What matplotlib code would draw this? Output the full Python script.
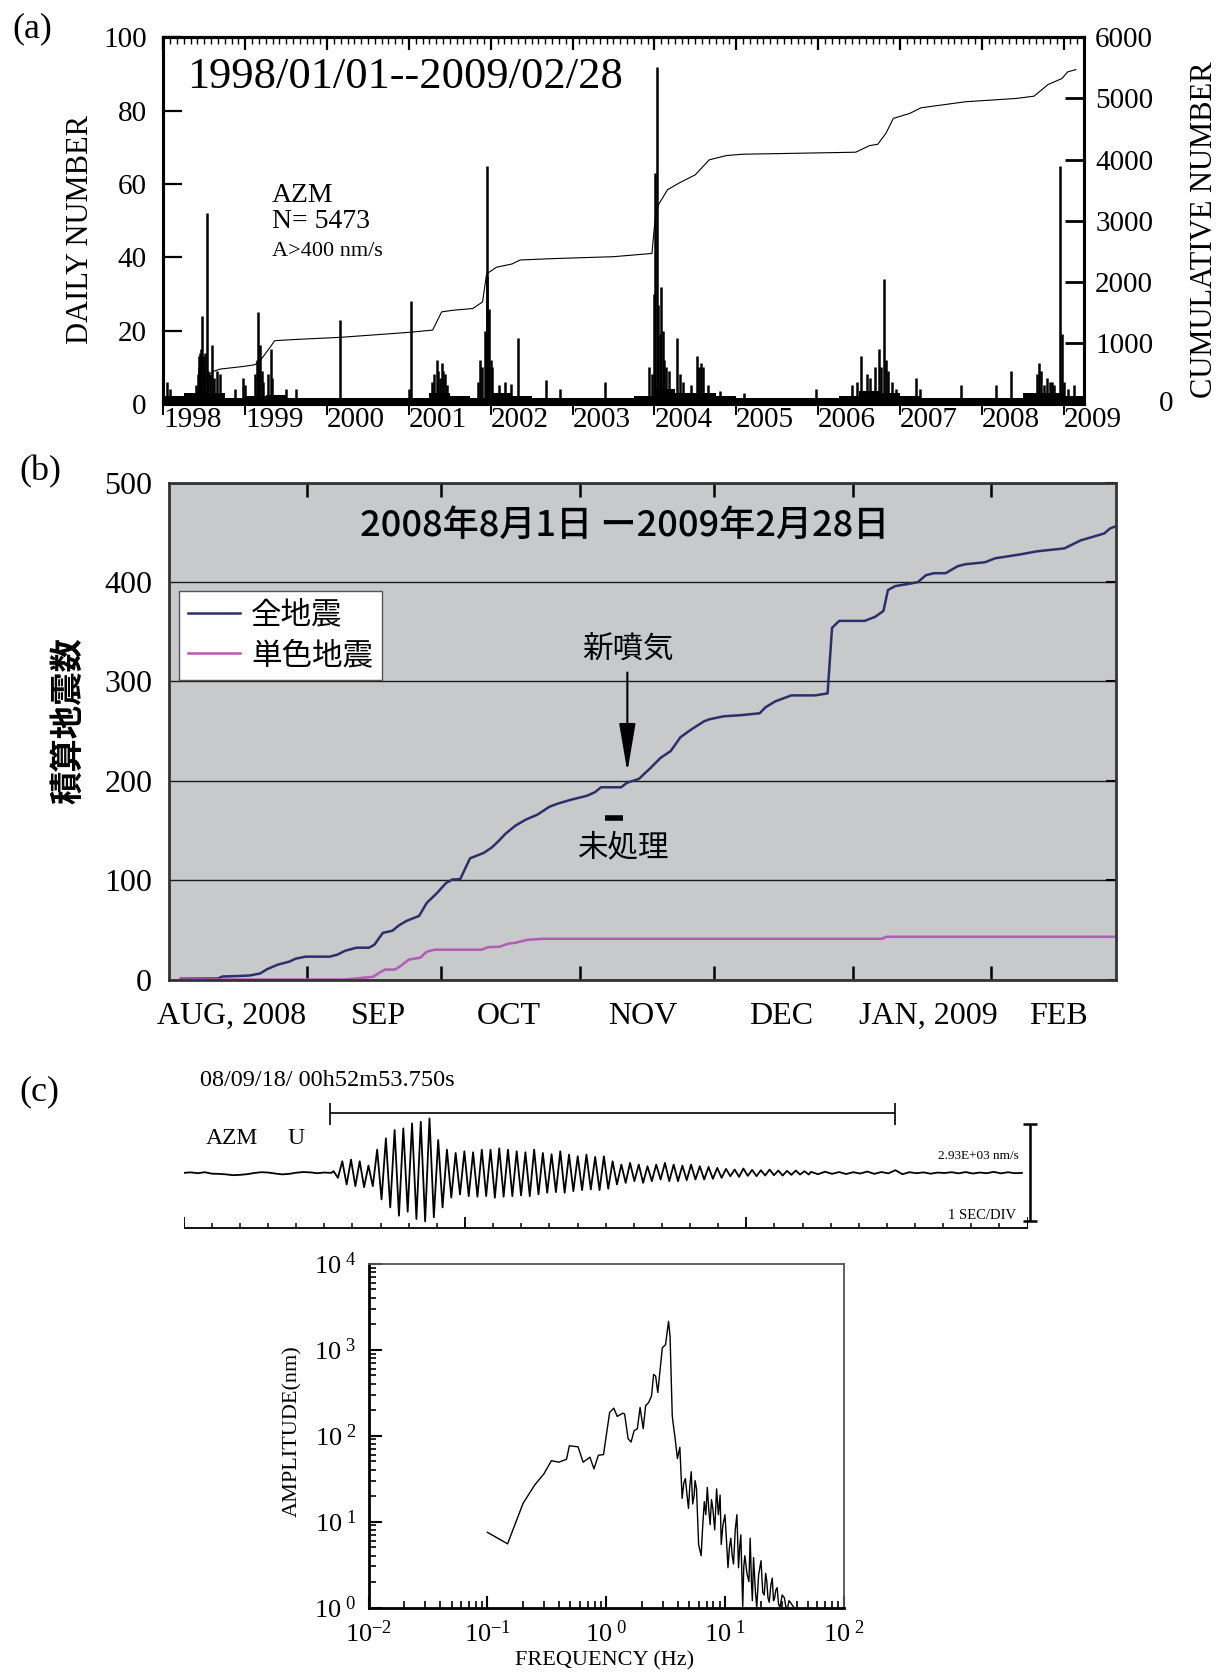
import numpy as np
import matplotlib
matplotlib.use('Agg')
import matplotlib.pyplot as plt
from matplotlib.ticker import FixedLocator, LogLocator, FuncFormatter, NullFormatter

plt.rcParams['font.family'] = ['Liberation Serif', 'DejaVu Serif']
plt.rcParams['mathtext.fontset'] = 'custom'
plt.rcParams['mathtext.rm'] = 'Liberation Serif'
plt.rcParams['mathtext.it'] = 'Liberation Serif:italic'
plt.rcParams['mathtext.bf'] = 'Liberation Serif:bold'
JP = ['Noto Sans CJK JP', 'DejaVu Sans']

W, H = 1221, 1675

# ---------------- (a) daily / cumulative counts 1998-2009 ----------------
spike_year = [1998.05, 1998.08, 1998.40, 1998.42, 1998.43, 1998.44, 1998.45, 1998.46, 1998.47,
              1998.48, 1998.49, 1998.50, 1998.51, 1998.53, 1998.55, 1998.57, 1998.60, 1998.62,
              1998.66, 1998.69, 1998.87, 1998.97, 1999.00,
              1999.12, 1999.14, 1999.15, 1999.16, 1999.18, 1999.20, 1999.22, 1999.28, 1999.31,
              1999.33, 1999.50, 1999.62,
              2000.16, 2001.00, 2001.03, 2001.28, 2001.31, 2001.34, 2001.36, 2001.38, 2001.40,
              2001.42, 2001.44, 2001.47, 2001.85, 2001.87, 2001.89, 2001.93, 2001.95, 2001.96,
              2001.98, 2002.00, 2002.02, 2002.10, 2002.17, 2002.25, 2002.33, 2002.67, 2002.85,
              2003.40, 2003.94, 2003.97, 2004.00, 2004.01, 2004.03, 2004.05, 2004.07, 2004.08,
              2004.10, 2004.12, 2004.14, 2004.18, 2004.28, 2004.31, 2004.35, 2004.45, 2004.52,
              2004.55, 2004.57, 2004.60, 2004.65, 2004.80, 2005.10, 2005.98, 2006.42, 2006.47,
              2006.53, 2006.60, 2006.64, 2006.70, 2006.74, 2006.77, 2006.81, 2006.83, 2006.86,
              2006.90, 2006.95, 2007.20, 2007.25, 2007.75, 2008.18, 2008.36, 2008.68, 2008.70,
              2008.72, 2008.76, 2008.80, 2008.83, 2008.86, 2008.88, 2008.96, 2008.98, 2009.00,
              2009.05, 2009.13]
spike_count = [6, 4, 5, 8, 10, 13, 14, 15, 24,
               13, 12, 10, 14, 52, 9, 8, 16, 7,
               9, 8, 4, 7, 5,
               8, 12, 10, 25, 16, 9, 6, 8, 15,
               7, 4, 4,
               23, 4, 28, 6, 8, 12, 9, 7, 11,
               9, 8, 5, 6, 12, 10, 20, 35, 65,
               26, 12, 10, 5, 6, 5.5, 18, 6.5, 4,
               6, 10, 8, 30, 63, 92, 27, 19, 32,
               20, 12, 10, 9, 18, 8, 6, 5, 13,
               10, 11, 10, 5, 3.5, 3, 4, 5, 6,
               13, 8, 7, 10, 15, 10, 34, 12, 9,
               6, 4, 7, 4, 5, 5, 9, 8, 11,
               9, 5, 7, 6, 6, 5, 65, 19, 6,
               4, 5]
# typical small daily counts, one value per quarter year from 1998 Q1
bg_level = [2, 3, 3, 1.5,
            2, 2.5, 1.5, 1.5,
            1.5, 1.5, 1.5, 1.5,
            1.5, 3, 2, 1.5,
            3, 2, 1.5, 1.5,
            1.5, 1.5, 1.5, 2,
            4, 3, 3, 2,
            1.5, 1.5, 1.5, 1.5,
            1.5, 2, 3.5, 3,
            2, 1.5, 1.5, 1.5,
            1.5, 1.5, 3, 3,
            2]
cum_year = [1998.0, 1998.35, 1998.45, 1998.55, 1998.61, 1998.69, 1998.98, 1999.12, 1999.19,
            1999.31, 1999.36, 1999.65, 2000.16, 2001.0, 2001.29, 2001.40, 2001.54, 2001.78,
            2001.90, 2001.95, 2002.07, 2002.26, 2002.36, 2002.75, 2003.5, 2003.97, 2004.01,
            2004.05, 2004.16, 2004.30, 2004.50, 2004.67, 2004.88, 2005.08, 2005.76, 2006.46,
            2006.63, 2006.73, 2006.83, 2006.92, 2007.12, 2007.26, 2007.5, 2007.8, 2008.42,
            2008.64, 2008.81, 2008.98, 2009.05, 2009.15]
cum_count = [0, 40, 250, 480, 530, 568, 612, 640, 720,
             937, 1034, 1056, 1088, 1170, 1207, 1505, 1532, 1560,
             1668, 2128, 2236, 2290, 2355, 2377, 2409, 2462, 3043,
             3260, 3505, 3614, 3750, 3995, 4065, 4087, 4103, 4120,
             4228, 4250, 4430, 4674, 4755, 4848, 4891, 4946, 5000,
             5038, 5228, 5326, 5435, 5473]
years = list(range(1998, 2010))

# ---------------- (b) cumulative counts Aug 2008 - Feb 2009 ----------------
all_day = [2.7, 11, 12, 15.5, 18, 20.4, 22, 24.4, 27, 28.4, 30.6, 36, 37.7, 39.5, 42, 44.8, 46,
           47.9, 50, 51.5, 53.2, 56, 57.7, 60, 62, 63.4, 65.2, 67.4, 70.5, 72.3, 73.7, 75.4,
           77.6, 79.9, 82.5, 85.2, 87, 90, 93.6, 95.4, 96.7, 101.2, 102.5, 105.2, 107.8, 110,
           112.3, 114.5, 117, 119.8, 121, 124.2, 127.8, 132.2, 133.5, 135.7, 139.3, 144.6,
           147.4, 148.4, 150, 155.7, 158, 159.9, 160.9, 162.5, 165.2, 167.6, 169.4, 171.2,
           173.8, 176.5, 178.2, 182.6, 184.9, 190.6, 194.2, 200.4, 202.2, 204, 209.3, 210.6,
           211.7]
all_n = [0.8, 1, 3, 3.5, 4, 6, 10.4, 15, 18, 21, 23, 23, 25, 29, 32, 32, 35,
         47, 49, 54.5, 59, 64, 77, 87, 97, 100.6, 101, 122, 127.5, 133, 139, 147,
         155, 161, 166, 174, 177, 181, 185, 188.7, 193.5, 193.5, 198, 202, 213, 223,
         230, 244, 252, 260, 262, 265, 266, 268, 274, 280, 286, 286,
         288, 354, 361, 361, 365, 371, 392, 396, 398, 400, 407, 409,
         409, 416, 418, 420, 424, 428, 431, 434, 438, 442, 449, 454,
         456]
mono_day = [2.7, 39.5, 45.7, 47, 48.4, 50.6, 52, 53.7, 56.3, 57.7, 59.5, 70, 71.4, 74, 75.9,
            77.6, 80.3, 83.8, 159.6, 160.5, 211.7]
mono_n = [0, 0, 2.7, 6.5, 10, 10, 14, 20, 22, 28, 30, 30, 32.5, 33, 36,
          37, 40, 41, 41, 43, 43]
month_start = [31, 61, 92, 122, 153, 184]
month_mid = [14, 47, 76, 106, 137, 170, 199]
month_lab = ['AUG, 2008', 'SEP', 'OCT', 'NOV', 'DEC', 'JAN, 2009', 'FEB']

# ---------------- (c) waveform and spectrum ----------------
pre_noise = [0, 15, -10, 20, -25, -30, -45, -70, -60, -40, -5, 20, 10, -20, -45, -30, 5, 25,
             15, -10, 10, 0]
wave_t0 = 5.25      # s, onset
wave_period = 0.31  # s, dominant period
wave_up = [50, 350, 400, 350, 220, 700, 1040, 1290, 1340, 1490, 1540, 1640, 990, 700,
           600, 650, 620, 700, 700, 740, 700, 650, 620, 700, 600, 560, 650, 550, 500, 550, 480, 500,
           350, 250, 300, 250, 200, 250, 300, 250, 220, 250, 200, 180, 150,
           120, 100, 130, 90, 80, 100, 70, 60, 70, 50]
wave_down = [150, 350, 400, 430, 400, 800, 1040, 1290, 1170, 1390, 1460, 1340, 1040, 745,
             650, 700, 720, 700, 750, 720, 700, 680, 700, 650, 600, 580, 600, 550, 520, 500, 520, 480,
             350, 300, 250, 300, 250, 200, 250, 250, 220, 200, 200, 180, 150,
             100, 120, 90, 100, 80, 70, 80, 60, 50, 50]
post_noise = [30, -40, 35, -30, 25, -35, 20, -20, 40, -30, 25, -15, 80, -40, 20, -10, 15, -25,
              10, -5, 20, -15, 25, -20, 10, -10, 30, -15, 20, -10, 0]

spec_f = [0.1, 0.148, 0.2, 0.25, 0.30, 0.346, 0.40, 0.464, 0.49, 0.58, 0.64, 0.73, 0.79, 0.86,
          0.95, 1.07, 1.16, 1.24, 1.38, 1.43, 1.53, 1.62, 1.72, 1.83, 1.93, 2.05, 2.15, 2.28,
          2.41, 2.51, 2.61, 2.72, 2.97, 3.16, 3.35, 3.45, 3.60, 3.71, 3.78, 3.98, 4.17, 4.36,
          4.5, 4.64, 4.8, 4.93, 5.05, 5.2, 5.35, 5.5, 5.6, 5.76, 5.9, 6.0, 6.3, 6.5, 6.7, 6.9,
          7.1, 7.3, 7.5, 7.7, 7.9, 8.2, 8.5, 8.8, 9.1, 9.3, 9.6, 10.0, 10.3, 10.6, 10.9,
          11.2, 11.5, 11.8, 12.2, 12.6, 13.0, 13.3, 13.6, 14.1, 14.4, 14.7, 15.3, 15.9, 16.3,
          16.7, 17.0, 17.4, 18.0, 18.5, 19.2, 20.1, 20.8, 21.4, 22.0, 22.5, 23.0, 23.6, 24.3,
          25, 25.6, 26.2, 26.8, 27.5, 28.2, 29, 30.3, 31.6, 32.6, 33.7, 34.6, 35.5, 38]
spec_a = [7.5, 5.5, 16.3, 26.5, 36, 51, 49, 53, 76, 74, 49, 56, 41, 59,
          60, 186, 208, 167, 182, 178, 92, 84, 114, 120, 212, 120, 223, 242,
          290, 515, 490, 316, 1050, 1140, 2130, 1420, 170, 120, 100, 54, 73, 18.6,
          28, 31.6, 20, 14.2, 25, 38, 16, 20, 30, 24, 10, 5.4, 4, 9, 17, 12,
          25, 14, 9.2, 18, 14.2, 8, 24, 12, 20.3, 5.4, 9, 12, 6, 2.9, 5,
          6.4, 4, 3.2, 8, 12, 2.9, 5, 7, 1.0, 3, 4, 2.5, 2, 6.4,
          2, 1.2, 3.8, 1.6, 1.0, 2.4, 3.5, 1.5, 1.4, 2.5, 2, 1.3, 1.15, 1.8,
          2.2, 1.2, 1.3, 1.6, 1.7, 1.1, 1.0, 1.4, 1.3, 1.0, 1.0, 1.2, 1.15, 1.0]


def box(l, t, r, b):
    return [l / W, 1 - b / H, (r - l) / W, (b - t) / H]


def ftext(x, y, s, **kw):
    fig.text(x / W, 1 - y / H, s, **kw)


fig = plt.figure(figsize=(W / 100, H / 100), dpi=100)

# ======================= panel (a) =======================
ax = fig.add_axes(box(163.4, 37.4, 1084, 403.8))
edges = 1998 + 0.25 * np.arange(len(bg_level) + 1)
ax.stairs(bg_level, edges, fill=True, color='black', lw=0)
ax.vlines(spike_year, 0, spike_count, color='black', lw=1.8)
ax.set_xlim(1998, 2009.25)
ax.set_ylim(0, 100)
ax.set_yticks(range(0, 101, 20))
ax.tick_params(axis='y', direction='in', length=14, width=1.6, pad=12, labelsize=21)
ax.set_xticks(years)
ax.set_xticklabels([str(y) for y in years], ha='left')
ax.xaxis.set_minor_locator(FixedLocator(np.arange(1998, 2009.26, 1 / 12)))
ax.tick_params(axis='x', which='major', direction='out', length=8, width=1.4, pad=-6, labelsize=21)
ax.tick_params(axis='x', which='minor', direction='in', length=4, width=1)
for s in ax.spines.values():
    s.set_linewidth(2.2)

top = ax.secondary_xaxis('top')
top.set_xticks(years)
top.set_xticklabels([])
top.xaxis.set_minor_locator(FixedLocator(np.arange(1998, 2009.26, 1 / 12)))
top.tick_params(which='major', direction='in', length=9, width=1.6)
top.tick_params(which='minor', direction='in', length=5, width=1)
top.spines['top'].set_linewidth(2.2)

ax2 = ax.twinx()
ax2.plot(cum_year, cum_count, color='black', lw=0.8)
ax2.set_ylim(0, 6000)
ax2.set_yticks(range(0, 6001, 1000))
ax2.set_yticklabels([''] + [str(v) for v in range(1000, 6001, 1000)])
ax2.tick_params(axis='y', direction='in', length=14, width=2, pad=8, labelsize=21)
for s in ax2.spines.values():
    s.set_linewidth(2.2)

ftext(1166, 404, '0', fontsize=21, ha='center', va='center')
ftext(80, 230, 'DAILY NUMBER', rotation=90, fontsize=22, ha='center', va='center')
ftext(1204, 230, 'CUMULATIVE NUMBER', rotation=90, fontsize=22, ha='center', va='center')
ftext(32, 29, '(a)', fontsize=26, ha='center', va='center')
ftext(187, 77, '1998/01/01--2009/02/28', fontsize=32, ha='left', va='center')
ftext(272, 195, 'AZM', fontsize=20, ha='left', va='center')
ftext(272, 222, 'N= 5473', fontsize=20, ha='left', va='center')
ftext(272, 252, 'A>400 nm/s', fontsize=16, ha='left', va='center')

# ======================= panel (b) =======================
bx = fig.add_axes(box(168.8, 482.8, 1116.3, 979.5), facecolor='#c8c9cb')
bx.plot(all_day, all_n, color='#2c2f6c', lw=1.8, label='全地震')
bx.plot(mono_day, mono_n, color='#b25cb6', lw=1.8, label='単色地震')
bx.set_xlim(0, 212)
bx.set_ylim(0, 500)
bx.set_yticks(range(0, 501, 100))
bx.grid(axis='y', color='#1a1a1a', lw=1)
bx.tick_params(axis='y', left=False, right=True, direction='in', length=7, width=1.5,
               labelsize=23, pad=12)
bx.set_xticks(month_start)
bx.set_xticklabels([])
bx.set_xticks(month_mid, minor=True)
bx.set_xticklabels(month_lab, minor=True)
bx.tick_params(axis='x', which='major', direction='in', top=True, bottom=True,
               length=10, width=1.8)
bx.tick_params(axis='x', which='minor', length=0, pad=16, labelsize=23)
for s in bx.spines.values():
    s.set_linewidth(2)
    s.set_color('#333333')

bx.legend(loc='upper left', bbox_to_anchor=(0.011, 0.783), prop={'family': JP, 'size': 22},
          frameon=True, fancybox=False, edgecolor='#555555', framealpha=1, borderaxespad=0,
          handlelength=1.7, handletextpad=0.35, borderpad=0.3, labelspacing=0.3)
bx.text(0.481, 0.914, '2008年8月1日 ー2009年2月28日', transform=bx.transAxes, ha='center',
        va='center', family=JP, fontsize=26, fontweight='medium')
bx.annotate('', xy=(102.6, 209), xytext=(102.6, 309),
            arrowprops=dict(arrowstyle='-|>,head_length=1.0,head_width=0.17',
                            color='black', lw=1.5, mutation_scale=30, shrinkA=0, shrinkB=0))
bx.text(102.8, 333, '新噴気', family=JP, fontsize=22, ha='center', va='center')
bx.text(101.9, 133, '未処理', family=JP, fontsize=22, ha='center', va='center')
bx.plot([97.6, 101.7], [162.5, 162.5], color='black', lw=4, solid_capstyle='butt')

ftext(69, 721, '積算地震数', rotation=90, family=JP, fontsize=24, fontweight='bold',
      ha='center', va='center')
ftext(40, 472, '(b)', fontsize=26, ha='center', va='center')

# ======================= panel (c) waveform =======================
sx = fig.add_axes(box(183.7, 1062.8, 1027.6, 1239.1))
sx.axis('off')
sx.set_xlim(0, 30)
sx.set_ylim(-1996, 3317)

n_cyc = len(wave_up)
t_pre = 0.25 * np.arange(len(pre_noise))
t_up = wave_t0 + wave_period * (np.arange(n_cyc) + 0.25)
t_dn = wave_t0 + wave_period * (np.arange(n_cyc) + 0.75)
t_wave = np.column_stack([t_up, t_dn]).ravel()
v_wave = np.column_stack([wave_up, -np.array(wave_down)]).ravel()
t_post = wave_t0 + wave_period * n_cyc + 0.25 * np.arange(len(post_noise))
t_all = np.concatenate([t_pre, t_wave, t_post])
v_all = np.concatenate([pre_noise, v_wave, post_noise])
sx.plot(t_all, v_all, color='black', lw=1.3, solid_joinstyle='round')

sec = np.arange(0, 31)
sx.hlines(-1674, 0, 30, color='black', lw=1.3)
sx.vlines(sec, -1674, -1674 + 170, color='black', lw=1.1)
sx.vlines(sec[::10], -1674, -1674 + 330, color='black', lw=1.3)
sx.hlines(1803, 5.2, 25.3, color='black', lw=1.2)
sx.vlines([5.2, 25.3], 1449, 2093, color='black', lw=1.2)
sx.vlines(30.1, -1449, 1481, color='black', lw=1.8, clip_on=False)
sx.hlines([-1449, 1481], 29.85, 30.35, color='black', lw=1.8, clip_on=False)
sx.text(29.7, 515, '2.93E+03 nm/s', fontsize=9.5, ha='right', va='center')
sx.text(29.6, -1288, '1 SEC/DIV', fontsize=10.5, ha='right', va='center')
sx.text(0.8, 1030, 'AZM', fontsize=17, ha='left', va='center')
sx.text(3.7, 1030, 'U', fontsize=17, ha='left', va='center')
sx.text(0.57, 2769, '08/09/18/ 00h52m53.750s', fontsize=17.5, ha='left', va='center')
ftext(39, 1092, '(c)', fontsize=26, ha='center', va='center')

# ======================= panel (c) spectrum =======================
px = fig.add_axes(box(368.5, 1263.6, 843.8, 1607.5))
px.loglog(spec_f, spec_a, color='black', lw=1)
px.set_xlim(1e-2, 1e2)
px.set_ylim(1, 1e4)


def pow_label(v, pos):
    e = int(round(np.log10(v)))
    if e < 0:
        return r'$10^{%d}$' % e
    return r'$10^{\ %d}$' % e


px.xaxis.set_major_locator(LogLocator(base=10, numticks=10))
px.yaxis.set_major_locator(LogLocator(base=10, numticks=10))
px.xaxis.set_minor_locator(LogLocator(base=10, subs=np.arange(2, 10), numticks=20))
px.yaxis.set_minor_locator(LogLocator(base=10, subs=np.arange(2, 10), numticks=20))
px.xaxis.set_major_formatter(FuncFormatter(pow_label))
px.yaxis.set_major_formatter(FuncFormatter(pow_label))
px.xaxis.set_minor_formatter(NullFormatter())
px.yaxis.set_minor_formatter(NullFormatter())
px.tick_params(which='both', direction='in', top=False, right=False, labelsize=19)
px.tick_params(which='major', length=9, width=1.5, pad=9)
px.tick_params(which='minor', length=5, width=1.2)
for k in ['left', 'bottom']:
    px.spines[k].set_linewidth(2)
for k in ['top', 'right']:
    px.spines[k].set_linewidth(1.3)
    px.spines[k].set_color('#555555')
ftext(293, 1431, 'AMPLITUDE(nm)', rotation=90, fontsize=16, ha='center', va='center')
ftext(605, 1661, 'FREQUENCY (Hz)', fontsize=16, ha='center', va='center')

fig.savefig('out.png', dpi=100)
